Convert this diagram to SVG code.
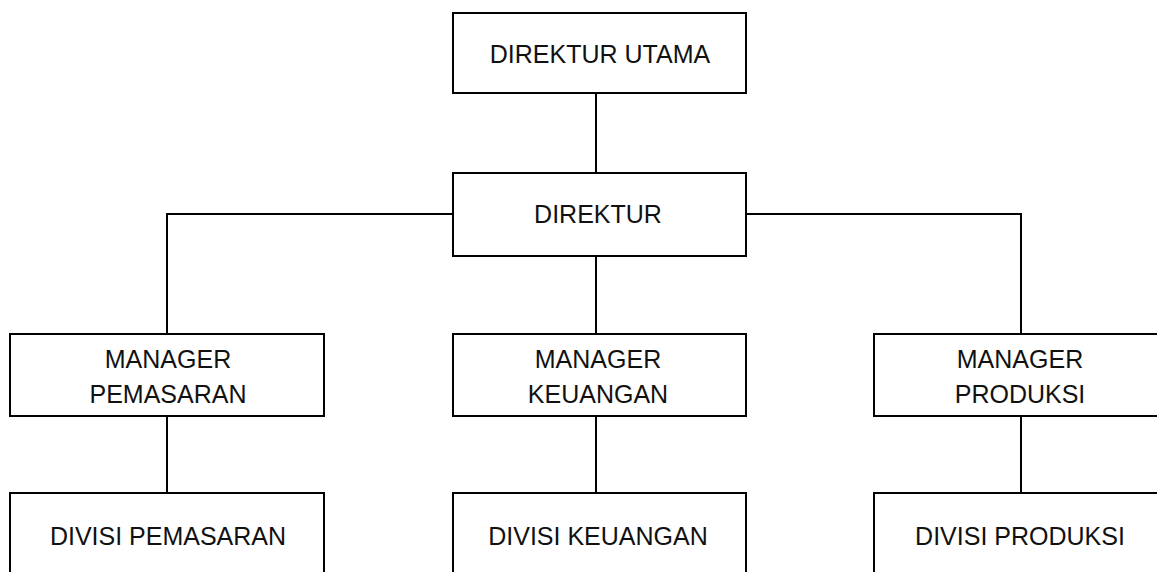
<svg xmlns="http://www.w3.org/2000/svg" width="1157" height="572" viewBox="0 0 1157 572">
<style>
.box{fill:#fff;stroke:#000;stroke-width:2}
.lbl{font-family:"Liberation Sans",Arial,sans-serif;font-size:25px;fill:#111;text-anchor:middle}
.con{fill:none;stroke:#000;stroke-width:2}
</style>
<rect width="1157" height="572" fill="#fff"/>
<g id="connectors">
<line class="con" x1="596" y1="93" x2="596" y2="173"/>
<polyline class="con" points="453,214 167,214 167,334"/>
<polyline class="con" points="746,214 1021,214 1021,334"/>
<line class="con" x1="596" y1="256" x2="596" y2="334"/>
<line class="con" x1="167" y1="416" x2="167" y2="493"/>
<line class="con" x1="596" y1="416" x2="596" y2="493"/>
<line class="con" x1="1021" y1="416" x2="1021" y2="493"/>
</g>
<g id="direktur-utama"><rect class="box" x="453" y="13" width="293" height="80"/><text class="lbl" x="600" y="63">DIREKTUR UTAMA</text></g>
<g id="direktur"><rect class="box" x="453" y="173" width="293" height="83"/><text class="lbl" x="598" y="223">DIREKTUR</text></g>
<g id="manager-pemasaran"><rect class="box" x="10" y="334" width="314" height="82"/><text class="lbl" x="168" y="368">MANAGER</text><text class="lbl" x="168" y="403">PEMASARAN</text></g>
<g id="manager-keuangan"><rect class="box" x="453" y="334" width="293" height="82"/><text class="lbl" x="598" y="368">MANAGER</text><text class="lbl" x="598" y="403">KEUANGAN</text></g>
<g id="manager-produksi"><rect class="box" x="874" y="334" width="294" height="82"/><text class="lbl" x="1020" y="368">MANAGER</text><text class="lbl" x="1020" y="403">PRODUKSI</text></g>
<g id="divisi-pemasaran"><rect class="box" x="10" y="493" width="314" height="90"/><text class="lbl" x="168" y="545">DIVISI PEMASARAN</text></g>
<g id="divisi-keuangan"><rect class="box" x="453" y="493" width="293" height="90"/><text class="lbl" x="598" y="545">DIVISI KEUANGAN</text></g>
<g id="divisi-produksi"><rect class="box" x="874" y="493" width="294" height="90"/><text class="lbl" x="1020" y="545">DIVISI PRODUKSI</text></g>
</svg>
